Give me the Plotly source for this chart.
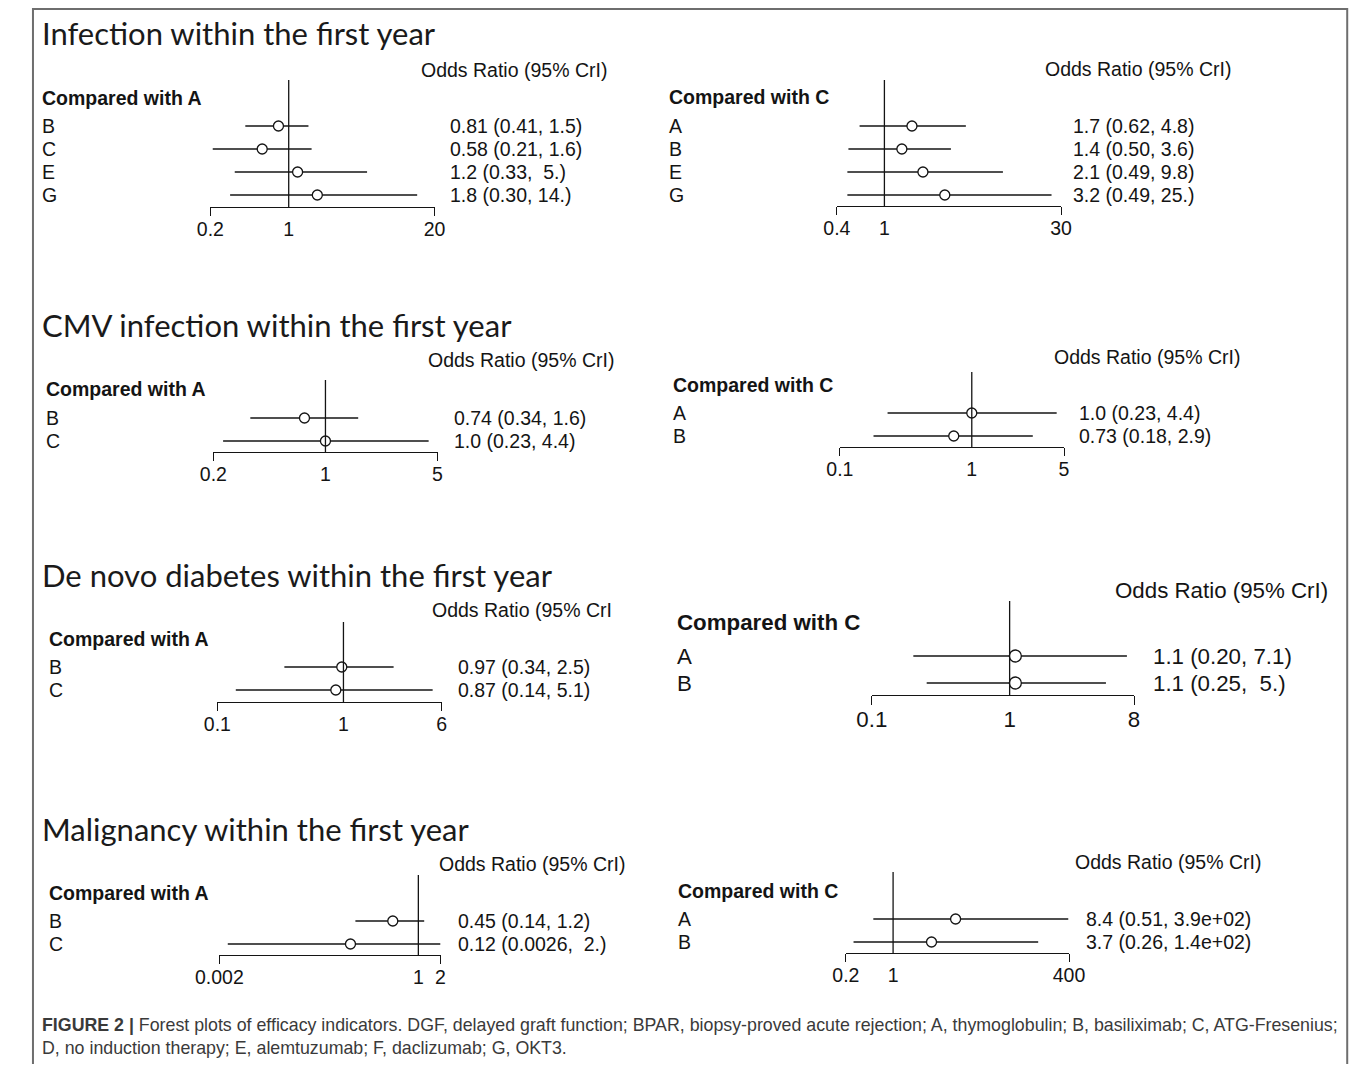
import math
import plotly.graph_objects as go

# ---------------- data ----------------
titles = ["Infection within the first year",
          "CMV infection within the first year",
          "De novo diabetes within the first year",
          "Malignancy within the first year"]

inf_A_labels = ["B", "C", "E", "G"]
inf_A_or = [0.81, 0.58, 1.2, 1.8]
inf_A_lo = [0.41, 0.21, 0.33, 0.30]
inf_A_hi = [1.5, 1.6, 5.0, 14.0]
inf_A_txt = ["0.81 (0.41, 1.5)", "0.58 (0.21, 1.6)", "1.2 (0.33,\u00a0 5.)", "1.8 (0.30, 14.)"]
inf_A_ticks = [0.2, 1, 20]
inf_A_ticklabels = ["0.2", "1", "20"]

inf_C_labels = ["A", "B", "E", "G"]
inf_C_or = [1.7, 1.4, 2.1, 3.2]
inf_C_lo = [0.62, 0.50, 0.49, 0.49]
inf_C_hi = [4.8, 3.6, 9.8, 25.0]
inf_C_txt = ["1.7 (0.62, 4.8)", "1.4 (0.50, 3.6)", "2.1 (0.49, 9.8)", "3.2 (0.49, 25.)"]
inf_C_ticks = [0.4, 1, 30]
inf_C_ticklabels = ["0.4", "1", "30"]

cmv_A_labels = ["B", "C"]
cmv_A_or = [0.74, 1.0]
cmv_A_lo = [0.34, 0.23]
cmv_A_hi = [1.6, 4.4]
cmv_A_txt = ["0.74 (0.34, 1.6)", "1.0 (0.23, 4.4)"]
cmv_A_ticks = [0.2, 1, 5]
cmv_A_ticklabels = ["0.2", "1", "5"]

cmv_C_labels = ["A", "B"]
cmv_C_or = [1.0, 0.73]
cmv_C_lo = [0.23, 0.18]
cmv_C_hi = [4.4, 2.9]
cmv_C_txt = ["1.0 (0.23, 4.4)", "0.73 (0.18, 2.9)"]
cmv_C_ticks = [0.1, 1, 5]
cmv_C_ticklabels = ["0.1", "1", "5"]

dia_A_labels = ["B", "C"]
dia_A_or = [0.97, 0.87]
dia_A_lo = [0.34, 0.14]
dia_A_hi = [2.5, 5.1]
dia_A_txt = ["0.97 (0.34, 2.5)", "0.87 (0.14, 5.1)"]
dia_A_ticks = [0.1, 1, 6]
dia_A_ticklabels = ["0.1", "1", "6"]

dia_C_labels = ["A", "B"]
dia_C_or = [1.1, 1.1]
dia_C_lo = [0.20, 0.25]
dia_C_hi = [7.1, 5.0]
dia_C_txt = ["1.1 (0.20, 7.1)", "1.1 (0.25,\u00a0 5.)"]
dia_C_ticks = [0.1, 1, 8]
dia_C_ticklabels = ["0.1", "1", "8"]

mal_A_labels = ["B", "C"]
mal_A_or = [0.45, 0.12]
mal_A_lo = [0.14, 0.0026]
mal_A_hi = [1.2, 2.0]
mal_A_txt = ["0.45 (0.14, 1.2)", "0.12 (0.0026,\u00a0 2.)"]
mal_A_ticks = [0.002, 1, 2]
mal_A_ticklabels = ["0.002", "1", "2"]

mal_C_labels = ["A", "B"]
mal_C_or = [8.4, 3.7]
mal_C_lo = [0.51, 0.26]
mal_C_hi = [390.0, 140.0]
mal_C_txt = ["8.4 (0.51, 3.9e+02)", "3.7 (0.26, 1.4e+02)"]
mal_C_ticks = [0.2, 1, 400]
mal_C_ticklabels = ["0.2", "1", "400"]

headers = ["Compared with A", "Compared with C"]
or_header = "Odds Ratio (95% CrI)"

caption_1 = ("<b>FIGURE 2 |</b> Forest plots of efficacy indicators. DGF, delayed graft function; "
             "BPAR, biopsy-proved acute rejection; A, thymoglobulin; B, basiliximab; C, ATG-Fresenius;")
caption_2 = "D, no induction therapy; E, alemtuzumab; F, daclizumab; G, OKT3."

# ---------------- layout (positions in picture pixels) ----------------
panels = [
    dict(d=(inf_A_labels, inf_A_or, inf_A_lo, inf_A_hi, inf_A_txt, inf_A_ticks, inf_A_ticklabels, headers[0], or_header),
         xl=210, xr=434, row0=126, sp=23, axis=207, vtop=80, lab_x=40, hdr_y=98, or_x=418, or_y=70, val_x=447, fs=19.5, ms=10),
    dict(d=(inf_C_labels, inf_C_or, inf_C_lo, inf_C_hi, inf_C_txt, inf_C_ticks, inf_C_ticklabels, headers[1], or_header),
         xl=836, xr=1060, row0=126, sp=23, axis=206, vtop=80, lab_x=666, hdr_y=97, or_x=1042, or_y=69, val_x=1070, fs=19.5, ms=10),
    dict(d=(cmv_A_labels, cmv_A_or, cmv_A_lo, cmv_A_hi, cmv_A_txt, cmv_A_ticks, cmv_A_ticklabels, headers[0], or_header),
         xl=213, xr=437, row0=418, sp=23, axis=452, vtop=380, lab_x=44, hdr_y=389, or_x=425, or_y=360, val_x=451, fs=19.5, ms=10),
    dict(d=(cmv_C_labels, cmv_C_or, cmv_C_lo, cmv_C_hi, cmv_C_txt, cmv_C_ticks, cmv_C_ticklabels, headers[1], or_header),
         xl=839, xr=1063, row0=413, sp=23, axis=447, vtop=372, lab_x=670, hdr_y=385, or_x=1051, or_y=357, val_x=1076, fs=19.5, ms=10),
    dict(d=(dia_A_labels, dia_A_or, dia_A_lo, dia_A_hi, dia_A_txt, dia_A_ticks, dia_A_ticklabels, headers[0], "Odds Ratio (95% CrI"),
         xl=217, xr=441, row0=667, sp=23, axis=702, vtop=622, lab_x=47, hdr_y=639, or_x=429, or_y=610, val_x=455, fs=19.5, ms=10),
    dict(d=(dia_C_labels, dia_C_or, dia_C_lo, dia_C_hi, dia_C_txt, dia_C_ticks, dia_C_ticklabels, headers[1], or_header),
         xl=871, xr=1133, row0=656, sp=27, axis=695, vtop=601, lab_x=674, hdr_y=622, or_x=1112, or_y=590, val_x=1150, fs=22.3, ms=12),
    dict(d=(mal_A_labels, mal_A_or, mal_A_lo, mal_A_hi, mal_A_txt, mal_A_ticks, mal_A_ticklabels, headers[0], or_header),
         xl=219, xr=440, row0=921, sp=23, axis=955, vtop=875, lab_x=47, hdr_y=893, or_x=436, or_y=864, val_x=455, fs=19.5, ms=10),
    dict(d=(mal_C_labels, mal_C_or, mal_C_lo, mal_C_hi, mal_C_txt, mal_C_ticks, mal_C_ticklabels, headers[1], or_header),
         xl=845, xr=1068, row0=919, sp=23, axis=953, vtop=872, lab_x=675, hdr_y=891, or_x=1072, or_y=862, val_x=1083, fs=19.5, ms=10),
]
title_pos = [(40, 33), (40, 325), (40, 575), (40, 829)]

FONT = "Liberation Sans, Arial, Helvetica, sans-serif"
TFONT = "Lato, Open Sans, sans-serif"
INK = "#141414"

# page geometry: body margin and observed picture mapping (picture_x = OFFX + SX * page_x)
BODY = 8
OFFX, SX = 24.0, 0.97
W, H = 1366, 1056


def xf(x_pic):
    page = (x_pic - OFFX) / SX
    return (page - BODY) / W


def yf(y_pic):
    return 1 - (y_pic - BODY) / H


fig = go.Figure()
layout = dict(width=W, height=H, margin=dict(l=0, r=0, t=0, b=0),
              paper_bgcolor="white", plot_bgcolor="rgba(0,0,0,0)", showlegend=False)
annotations = []

for i, p in enumerate(panels, start=1):
    labels, ors, los, his, txts, ticks, ticklabels, hdr, orh = p["d"]
    n = len(labels)
    xs = "" if i == 1 else str(i)
    xo = str(i + 8)
    fs = p["fs"]
    y_bot = (p["axis"] - p["row0"]) / p["sp"]
    y_top = (p["vtop"] - p["row0"]) / p["sp"]
    rows = list(range(n))

    # reference line at OR = 1
    fig.add_trace(go.Scatter(x=[1, 1], y=[y_top, y_bot], mode="lines",
                             line=dict(color=INK, width=1.3), xaxis="x" + xo, yaxis="y" + xs,
                             hoverinfo="skip", cliponaxis=False))
    # point estimates with 95% credible intervals
    fig.add_trace(go.Scatter(
        x=ors, y=rows, mode="markers", xaxis="x" + xs, yaxis="y" + xs, cliponaxis=False,
        marker=dict(symbol="circle", size=p["ms"], color="white", line=dict(color=INK, width=1.3)),
        error_x=dict(type="data", symmetric=False,
                     array=[h - o for h, o in zip(his, ors)],
                     arrayminus=[o - l for o, l in zip(ors, los)],
                     width=0, thickness=1.4, color=INK)))

    rng = [math.log10(ticks[0]), math.log10(ticks[-1])]
    dom = [xf(p["xl"]), xf(p["xr"])]
    layout["xaxis" + xs] = dict(domain=dom, type="log", range=rng, anchor="y" + xs,
                                showline=True, linecolor=INK, linewidth=1.4, ticks="",
                                tickvals=ticks, ticktext=ticklabels, showgrid=False, zeroline=False,
                                tickfont=dict(family=FONT, size=fs, color=INK), ticklabelstandoff=4)
    layout["xaxis" + xo] = dict(overlaying="x" + xs, type="log", range=rng, anchor="y" + xs,
                                showline=False, ticks="outside", ticklen=int(fs * 0.42),
                                tickwidth=1.4, tickcolor=INK, tickvals=[ticks[0], ticks[-1]],
                                showticklabels=False, showgrid=False, zeroline=False)
    layout["yaxis" + xs] = dict(domain=[yf(p["axis"]), yf(p["vtop"])], range=[y_bot, y_top],
                                visible=False, showgrid=False, zeroline=False)

    for r, (lab, t) in enumerate(zip(labels, txts)):
        annotations.append(dict(x=xf(p["lab_x"]), y=r, xref="paper", yref="y" + xs, text=lab,
                                xanchor="left", yanchor="middle", showarrow=False,
                                font=dict(family=FONT, size=fs, color=INK)))
        annotations.append(dict(x=xf(p["val_x"]), y=r, xref="paper", yref="y" + xs, text=t,
                                xanchor="left", yanchor="middle", showarrow=False,
                                font=dict(family=FONT, size=fs, color=INK)))
    annotations.append(dict(x=xf(p["lab_x"]), y=yf(p["hdr_y"]), xref="paper", yref="paper",
                            text="<b>" + hdr + "</b>", xanchor="left", yanchor="middle", showarrow=False,
                            font=dict(family=FONT, size=fs, color=INK)))
    annotations.append(dict(x=xf(p["or_x"]), y=yf(p["or_y"]), xref="paper", yref="paper",
                            text=orh, xanchor="left", yanchor="middle", showarrow=False,
                            font=dict(family=FONT, size=fs, color=INK)))

for t, (tx, ty) in zip(titles, title_pos):
    annotations.append(dict(x=xf(tx), y=yf(ty), xref="paper", yref="paper", text=t,
                            xanchor="left", yanchor="middle", showarrow=False,
                            font=dict(family=TFONT, size=31, color="#1a1a1a")))

annotations.append(dict(x=xf(40), y=yf(1025), xref="paper", yref="paper", text=caption_1,
                        xanchor="left", yanchor="middle", showarrow=False,
                        font=dict(family=FONT, size=17.8, color="#3a3a3a")))
annotations.append(dict(x=xf(40), y=yf(1048), xref="paper", yref="paper", text=caption_2,
                        xanchor="left", yanchor="middle", showarrow=False,
                        font=dict(family=FONT, size=17.8, color="#3a3a3a")))

layout["annotations"] = annotations
layout["shapes"] = [dict(type="rect", xref="paper", yref="paper", x0=1.0 / W, x1=xf(1346),
                         y0=yf(1090), y1=1 - 1.0 / H, line=dict(color="#6e6e6e", width=2))]
fig.update_layout(**layout)
fig.write_html("out.html")
